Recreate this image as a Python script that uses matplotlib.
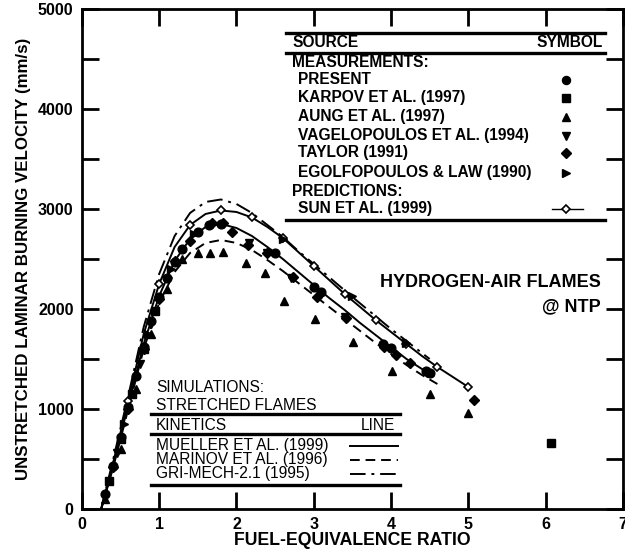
import numpy as np
import matplotlib.pyplot as plt
from matplotlib.ticker import MultipleLocator

plt.rcParams['font.family'] = ['Liberation Sans', 'DejaVu Sans']
plt.rcParams['font.weight'] = 'bold'

# simulations (lines)
mueller_phi = [0.25, 0.4, 0.6, 0.8, 1.0, 1.2, 1.4, 1.6, 1.8, 2.0, 2.2, 2.4, 2.6, 2.8, 3.0,
               3.2, 3.4, 3.6, 3.8, 4.0, 4.2, 4.4, 4.55]
mueller_su = [0, 420, 1040, 1650, 2130, 2480, 2700, 2820, 2850, 2810, 2730, 2620, 2500, 2370, 2240,
              2110, 1990, 1860, 1740, 1620, 1500, 1400, 1330]

marinov_phi = [0.25, 0.4, 0.6, 0.8, 1.0, 1.2, 1.4, 1.6, 1.8, 2.0, 2.2, 2.4, 2.6, 2.8, 3.0,
               3.2, 3.4, 3.6, 3.8, 4.0, 4.2, 4.4, 4.6]
marinov_su = [0, 400, 1000, 1600, 2060, 2370, 2560, 2660, 2690, 2660, 2590, 2490, 2380, 2260, 2140,
              2020, 1900, 1780, 1660, 1550, 1440, 1340, 1250]

gri_phi = [0.25, 0.4, 0.6, 0.8, 1.0, 1.2, 1.4, 1.6, 1.8, 2.0, 2.2, 2.4, 2.6, 2.8, 3.0,
           3.5, 4.0, 4.5]
gri_su = [0, 480, 1130, 1820, 2350, 2730, 2960, 3070, 3095, 3050, 2960, 2840, 2720, 2580, 2450,
          2120, 1800, 1500]

# predictions (Sun et al.)
sun_phi = [0.25, 0.4, 0.6, 0.8, 1.0, 1.2, 1.4, 1.6, 1.8, 2.0, 2.2, 2.4, 2.6, 2.8, 3.0,
           3.2, 3.4, 3.6, 3.8, 4.0, 4.2, 4.4, 4.6, 4.8, 5.0]
sun_su = [0, 450, 1080, 1750, 2250, 2620, 2840, 2950, 2985, 2970, 2915, 2820, 2710, 2570, 2430,
          2290, 2150, 2020, 1890, 1770, 1650, 1530, 1420, 1320, 1220]
sun_marks = [2, 4, 6, 8, 10, 12, 14, 16, 18, 20, 22, 24]

# measurements
present_phi = [0.3, 0.4, 0.5, 0.6, 0.7, 0.8, 0.9, 1.0, 1.1, 1.2, 1.3, 1.5, 1.65, 1.8, 2.5, 3.0, 3.1,
               3.9, 4.0, 4.45, 4.5]
present_su = [150, 430, 720, 1020, 1330, 1620, 1880, 2120, 2310, 2470, 2600, 2770, 2840, 2850, 2560,
              2220, 2170, 1650, 1610, 1380, 1360]

karpov_phi = [0.35, 0.5, 0.65, 0.8, 0.95, 6.07]
karpov_su = [280, 700, 1150, 1600, 1980, 660]

aung_phi = [0.3, 0.5, 0.7, 0.9, 1.1, 1.3, 1.5, 1.66, 1.82, 2.12, 2.37, 2.62, 3.01, 3.51, 4.01,
            4.51, 5.0]
aung_su = [100, 600, 1200, 1750, 2200, 2500, 2563, 2563, 2573, 2463, 2357, 2083, 1897, 1673, 1383,
           1147, 960]

vagelo_phi = [0.3, 0.45, 0.6, 0.75, 0.9, 2.16, 2.39, 2.71, 3.4]
vagelo_su = [120, 560, 1000, 1450, 1850, 2657, 2557, 2307, 1923]

taylor_phi = [0.4, 0.6, 0.8, 1.0, 1.2, 1.4, 1.68, 1.82, 1.94, 2.15, 2.39, 2.73, 3.04, 3.42, 3.91,
              4.07, 4.24, 4.46, 5.08]
taylor_su = [420, 1000, 1600, 2100, 2480, 2680, 2857, 2860, 2773, 2640, 2557, 2323, 2123, 1907, 1623,
             1540, 1457, 1373, 1090]

egolf_phi = [0.55, 0.85, 1.15, 1.45, 2.6, 3.5, 4.2]
egolf_su = [850, 1750, 2400, 2750, 2700, 2130, 1657]

fig = plt.figure(figsize=(6.25, 5.57), dpi=100)
ax = fig.add_axes([0.131, 0.0862, 0.8656, 0.8977])

lw = 1.4
ax.plot(mueller_phi, mueller_su, color='black', lw=lw)
ax.plot(marinov_phi, marinov_su, color='black', lw=lw, dashes=(5, 3))
ax.plot(gri_phi, gri_su, color='black', lw=lw, dashes=(8, 3, 1.5, 3))
ax.plot(sun_phi, sun_su, color='black', lw=lw, marker='D', ms=4.5, mfc='white', mec='black',
        mew=1.2, markevery=sun_marks)

ms = 6.3
ax.plot(present_phi, present_su, 'o', color='black', ms=ms)
ax.plot(karpov_phi, karpov_su, 's', color='black', ms=ms)
ax.plot(aung_phi, aung_su, '^', color='black', ms=ms)
ax.plot(vagelo_phi, vagelo_su, 'v', color='black', ms=ms)
ax.plot(taylor_phi, taylor_su, 'D', color='black', ms=ms - 1)
ax.plot(egolf_phi, egolf_su, '>', color='black', ms=ms)

ax.set_xlim(0, 7)
ax.set_ylim(0, 5000)
ax.xaxis.set_major_locator(MultipleLocator(1))
ax.yaxis.set_major_locator(MultipleLocator(1000))
ax.yaxis.set_minor_locator(MultipleLocator(500))
ax.tick_params(which='both', direction='in', length=12, width=2, top=True, right=True,
               labelsize=11.5, pad=6)
ax.tick_params(axis='x', which='minor', length=0)
for s in ax.spines.values():
    s.set_linewidth(2)
for lab in ax.get_xticklabels() + ax.get_yticklabels():
    lab.set_fontweight('bold')

ax.set_xlabel('FUEL-EQUIVALENCE RATIO', fontsize=12.7, fontweight='bold', labelpad=0)
ax.set_ylabel('UNSTRETCHED LAMINAR BURNING VELOCITY (mm/s)', fontsize=12.2, fontweight='bold',
              labelpad=5)

fs = 11.2
# source / symbol box
ax.plot([2.64, 6.77], [4757, 4757], color='black', lw=2.4, clip_on=False)
ax.plot([2.64, 6.77], [4557, 4557], color='black', lw=2.4)
ax.plot([2.64, 6.77], [2890, 2890], color='black', lw=2.4)
ax.text(2.72, 4660, 'SOURCE', fontsize=fs, va='center')
ax.text(6.74, 4660, 'SYMBOL', fontsize=fs, va='center', ha='right')
rows = [('MEASUREMENTS:', 2.72, 4460, None),
        ('PRESENT', 2.79, 4290, 'o'),
        ('KARPOV ET AL. (1997)', 2.79, 4110, 's'),
        ('AUNG ET AL. (1997)', 2.79, 3920, '^'),
        ('VAGELOPOULOS ET AL. (1994)', 2.79, 3730, 'v'),
        ('TAYLOR (1991)', 2.79, 3560, 'D'),
        ('EGOLFOPOULOS & LAW (1990)', 2.79, 3360, '>'),
        ('PREDICTIONS:', 2.72, 3170, None),
        ('SUN ET AL. (1999)', 2.79, 3000, None)]
for label, x, y, m in rows:
    ax.text(x, y, label, fontsize=fs, va='center')
    if m is not None:
        ax.plot([6.27], [y], m, color='black', ms=ms - (1.5 if m == 'D' else 0.5))
ax.plot([6.08, 6.48], [3000, 3000], color='black', lw=1)
ax.plot([6.27], [3000], 'D', ms=4, mfc='white', mec='black', mew=1.2)

# simulations box
sfs = 11.2
x0, x1 = 0.893, 4.11
ax.text(0.957, 1170, 'SIMULATIONS:', fontsize=sfs, va='baseline', fontweight='normal')
ax.text(0.957, 990, 'STRETCHED FLAMES', fontsize=sfs, va='baseline', fontweight='normal')
ax.plot([x0, x1], [950, 950], color='black', lw=2.4)
ax.plot([x0, x1], [750, 750], color='black', lw=2.4)
ax.plot([x0, x1], [240, 240], color='black', lw=2.4)
ax.text(0.957, 794, 'KINETICS', fontsize=sfs, va='baseline', fontweight='normal')
ax.text(4.05, 794, 'LINE', fontsize=sfs, va='baseline', ha='right', fontweight='normal')
sims = [('MUELLER ET AL. (1999)', 590, (None,)),
        ('MARINOV ET AL. (1996)', 450, (5, 3)),
        ('GRI-MECH-2.1 (1995)', 314, (8, 3, 1.5, 3))]
for label, y, d in sims:
    ax.text(0.957, y, label, fontsize=sfs, va='baseline', fontweight='normal')
    ly = y + 40
    if d[0] is None:
        ax.plot([3.47, 4.09], [ly, ly], color='black', lw=lw)
    else:
        ax.plot([3.47, 4.09], [ly, ly], color='black', lw=lw, dashes=d)

ax.text(6.71, 2260, 'HYDROGEN-AIR FLAMES', fontsize=13, va='center', ha='right')
ax.text(6.71, 2020, '@ NTP', fontsize=13, va='center', ha='right')

fig.savefig('out.png', dpi=100)
